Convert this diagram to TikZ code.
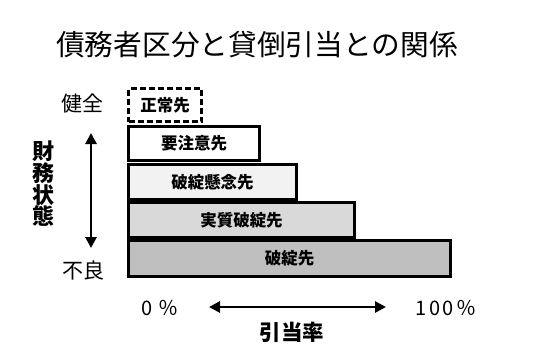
\documentclass[tikz,border=0pt]{standalone}
\usepackage{fontspec}
\setmainfont{Noto Sans CJK JP}
\usetikzlibrary{arrows.meta}
\definecolor{fillA}{HTML}{F2F2F2}
\definecolor{fillB}{HTML}{D9D9D9}
\definecolor{fillC}{HTML}{BFBFBF}
\tikzset{
  levelbox/.style={draw=black, line width=2.6pt, inner sep=0pt, font=\fontsize{16.5}{18}\selectfont\bfseries},
  sidelabel/.style={font=\fontsize{21}{23}\selectfont, inner sep=0pt},
  pctlabel/.style={inner sep=0pt, font=\fontsize{20}{22}\selectfont\addfontfeature{LetterSpace=12}},
  axisarrow/.style={line width=2.8pt, {Triangle[length=11pt,width=11pt]}-{Triangle[length=11pt,width=11pt]}},
}
\begin{document}
\begin{tikzpicture}[x=1pt,y=-1pt]
\useasboundingbox (0,0) rectangle (550,364);
\node[inner sep=0pt, font=\fontsize{28.7}{31}\selectfont] (title) at (257,45) {債務者区分と貸倒引当との関係};
\node[levelbox, dash pattern=on 6pt off 3pt, fill=white, minimum width=73pt, minimum height=33pt] (b1) at (165,105) {正常先};
\node[levelbox, fill=fillC, minimum width=322pt, minimum height=36pt] (b5) at (289.5,258.5) {破綻先};
\node[levelbox, fill=fillB, minimum width=226pt, minimum height=35pt] (b4) at (241.5,220) {実質破綻先};
\node[levelbox, fill=fillA, minimum width=168pt, minimum height=35pt] (b3) at (212.5,182) {破綻懸念先};
\node[levelbox, fill=white, minimum width=131pt, minimum height=34pt] (b2) at (194,143.5) {要注意先};
\node[sidelabel] (good) at (82,103) {健全};
\node[sidelabel] (bad) at (84,271) {不良};
\coordinate (vtop) at (91,133);
\coordinate (vbot) at (91,248);
\draw[axisarrow] (vbot) -- (vtop);
\node[inner sep=0pt, align=center, font=\fontsize{22}{21.7}\selectfont\bfseries] (fin) at (43,184) {財\\務\\状\\態};
\coordinate (hl) at (209,307);
\coordinate (hr) at (386,307);
\draw[axisarrow] (hl) -- (hr);
\node[pctlabel] (p0) at (160,308) {0 ％};
\node[pctlabel] (p100) at (446,308) {100％};
\node[inner sep=0pt, font=\fontsize{21.5}{23}\selectfont\bfseries] (rate) at (292,332) {引当率};
\end{tikzpicture}
\end{document}
